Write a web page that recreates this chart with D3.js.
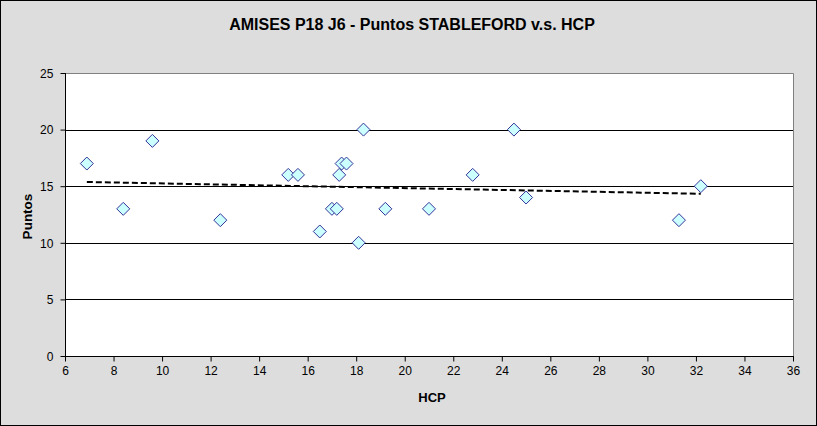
<!DOCTYPE html>
<html>
<head>
<meta charset="utf-8">
<script src="https://cdn.jsdelivr.net/npm/d3@7"></script>
<style>
  html, body { margin: 0; padding: 0; background: #fff; }
  svg { display: block; }
  text { font-family: Arial, "Liberation Sans", sans-serif; fill: #000; }
</style>
</head>
<body>
<svg id="chart" width="817" height="426"></svg>
<script>
// ---- data ----
const hcp    = [6.9, 8.4, 9.6, 12.4, 15.2, 15.6, 16.5, 17.0, 17.2, 17.3, 17.4, 17.6, 18.1, 18.3, 19.2, 21.0, 22.8, 24.5, 25.0, 31.3, 32.2];
const puntos = [17,  13,  19,  12,   16,   16,   11,   13,   13,   16,   17,   17,   10,   20,   13,   13,   16,   20,   14,   12,   15];
const xTicks = [6, 8, 10, 12, 14, 16, 18, 20, 22, 24, 26, 28, 30, 32, 34, 36];
const yTicks = [0, 5, 10, 15, 20, 25];
const title = "AMISES P18 J6 - Puntos STABLEFORD v.s. HCP";
const xLabel = "HCP";
const yLabel = "Puntos";

// ---- layout ----
const W = 817, H = 426;
const plot = { left: 65, right: 793, top: 73, bottom: 356 };

const svg = d3.select("#chart");

svg.append("rect")
  .attr("x", 0.5).attr("y", 0.5).attr("width", W - 1).attr("height", H - 1)
  .attr("fill", "#dddddd").attr("stroke", "#000").attr("stroke-width", 1);

const x = d3.scaleLinear().domain([6, 36]).range([plot.left, plot.right]);
const y = d3.scaleLinear().domain([0, 25]).range([plot.bottom, plot.top]);

// plot area
svg.append("rect")
  .attr("x", plot.left).attr("y", plot.top)
  .attr("width", plot.right - plot.left).attr("height", plot.bottom - plot.top)
  .attr("fill", "#fff");

// gridlines
svg.append("g")
  .selectAll("line")
  .data(yTicks.filter(v => v > 0 && v < 25))
  .join("line")
  .attr("x1", plot.left).attr("x2", plot.right)
  .attr("y1", d => Math.round(y(d)) + 0.5).attr("y2", d => Math.round(y(d)) + 0.5)
  .attr("stroke", "#000").attr("stroke-width", 1);

// plot border top/right (gray)
svg.append("path")
  .attr("d", `M${plot.left},${plot.top + 0.5}H${plot.right + 0.5}V${plot.bottom}`)
  .attr("fill", "none").attr("stroke", "#808080").attr("stroke-width", 1);

// axes
const xAxis = d3.axisBottom(x).tickValues(xTicks).tickFormat(d3.format("d")).tickSize(5).tickPadding(4);
const yAxis = d3.axisLeft(y).tickValues(yTicks).tickFormat(d3.format("d")).tickSize(5).tickPadding(7);

const gx = svg.append("g").attr("transform", `translate(0,${plot.bottom + 0.5})`).call(xAxis);
const gy = svg.append("g").attr("transform", `translate(${plot.left + 0.5},0)`).call(yAxis);
[gx, gy].forEach(g => {
  g.select(".domain").attr("stroke", "#000").attr("stroke-width", 1);
  g.selectAll(".tick line").attr("stroke", "#000");
  g.selectAll(".tick text")
    .attr("font-family", "Arial, 'Liberation Sans', sans-serif")
    .attr("font-size", "13.5px").attr("fill", "#000")
    .each(function () {
      const w = this.getComputedTextLength();
      d3.select(this).attr("textLength", w * 0.89).attr("lengthAdjust", "spacingAndGlyphs");
    });
});
gx.select(".domain").attr("d", `M${plot.left},0H${plot.right + 1}`);
gy.select(".domain").attr("d", `M0,${plot.top}V${plot.bottom}`);

// trendline (linear least squares)
const n = hcp.length;
const mx = d3.mean(hcp), my = d3.mean(puntos);
let sxy = 0, sxx = 0;
for (let i = 0; i < n; i++) { sxy += (hcp[i] - mx) * (puntos[i] - my); sxx += (hcp[i] - mx) ** 2; }
const slope = sxy / sxx, icpt = my - slope * mx;
const x0 = d3.min(hcp), x1 = d3.max(hcp);
svg.append("line")
  .attr("x1", x(x0)).attr("y1", y(icpt + slope * x0))
  .attr("x2", x(x1)).attr("y2", y(icpt + slope * x1))
  .attr("stroke", "#000").attr("stroke-width", 2)
  .attr("stroke-dasharray", "6,3");

// markers
const r = 6.5;
svg.append("g")
  .selectAll("path")
  .data(hcp.map((h, i) => [h, puntos[i]]))
  .join("path")
  .attr("d", d => {
    const cx = x(d[0]), cy = y(d[1]);
    return `M${cx},${cy - r}L${cx + r},${cy}L${cx},${cy + r}L${cx - r},${cy}Z`;
  })
  .attr("fill", "#ccffff").attr("stroke", "#333399").attr("stroke-width", 1);

// texts
svg.append("text")
  .attr("x", 412).attr("y", 30).attr("text-anchor", "middle")
  .attr("font-size", "16px").attr("font-weight", "bold")
  .text(title);

svg.append("text")
  .attr("x", (plot.left + plot.right) / 2 + 3).attr("y", 402).attr("text-anchor", "middle")
  .attr("font-size", "13px").attr("font-weight", "bold")
  .text(xLabel);

svg.append("text")
  .attr("transform", `translate(32,${(plot.top + plot.bottom) / 2 + 2}) rotate(-90)`)
  .attr("text-anchor", "middle")
  .attr("font-size", "13.5px").attr("font-weight", "bold")
  .text(yLabel);
</script>
</body>
</html>
